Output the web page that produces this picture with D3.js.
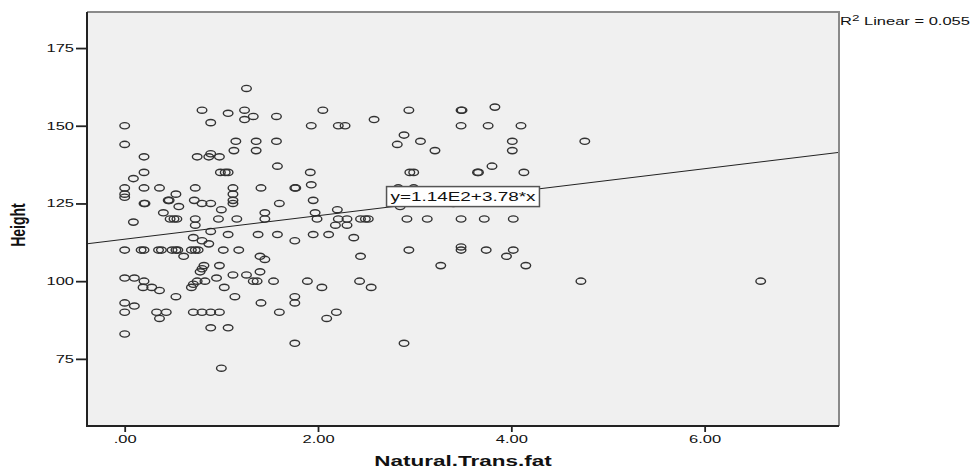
<!DOCTYPE html>
<html>
<head>
<meta charset="utf-8">
<script src="https://cdn.jsdelivr.net/npm/d3@7"></script>
<style>
  body { margin: 0; background: #fff; }
  svg { display: block; }
  text { font-family: "Liberation Sans", Arial, sans-serif; fill: #111; }
</style>
</head>
<body>
<svg width="975" height="468"></svg>
<script>
// Natural.Trans.fat (x) and Height (y)
let transFat = [
    0.80, 1.07, 1.24, 1.24, 1.33, 1.57, 0.89, 0.00, 1.93, 2.05, 2.21, 2.28, 1.26, 2.58, 2.94, 3.48, 3.49, 3.83, 3.48, 3.76, 4.10,
    0.00, 0.20, 0.75, 0.87, 0.89, 0.98, 1.15, 1.36, 1.57, 1.13, 1.36, 2.89, 2.82, 3.06, 3.21, 4.01, 4.01, 4.76,
    0.20, 0.09, 0.99, 1.04, 1.07, 1.58, 1.92, 2.95, 2.99, 3.65, 3.66, 3.80, 4.13,
    0.00, 0.00, 0.00, 0.20, 0.36, 0.73, 0.53, 1.12, 1.12, 1.41, 1.76, 1.77, 1.93, 2.83, 2.99,
    0.20, 0.21, 0.45, 0.46, 0.56, 0.72, 0.80, 0.89, 1.00, 1.12, 1.12, 1.60, 1.95, 2.20, 2.85, 3.40,
    0.09, 0.40, 0.47, 0.51, 0.54, 0.73, 0.73, 0.97, 1.16, 1.45, 1.45, 1.97, 1.99, 2.21, 2.30, 2.18, 2.30, 2.44, 2.49, 2.52, 2.92, 3.13, 3.48, 3.72, 4.02,
    0.89, 0.71, 0.80, 0.87, 1.07, 1.38, 1.58, 1.76, 1.95, 2.11, 2.37,
    0.00, 0.17, 0.20, 0.35, 0.38, 0.49, 0.53, 0.55, 0.61, 0.69, 0.73, 0.76, 1.02, 1.18, 1.40, 1.45, 2.44, 2.94, 3.48, 3.48, 3.74, 4.02, 3.95,
    0.98, 0.82, 0.80, 0.78, 0.00, 0.10, 0.95, 1.12, 1.26, 1.40, 3.27, 4.15,
    0.20, 0.19, 0.28, 0.36, 0.75, 0.83, 0.71, 0.69, 1.03, 1.33, 1.37, 1.54, 1.89, 2.04, 2.43, 2.55, 4.72, 6.58,
    0.53, 1.14, 1.76, 0.00, 0.10, 1.41, 1.76, 0.00, 0.33, 0.43, 0.36, 0.71, 0.80, 0.89, 0.98, 1.60, 2.19, 2.09,
    0.89, 1.07, 0.00, 1.00, 1.76, 2.89
]
let height = [
    155, 154, 155, 152, 153, 153, 151, 150, 150, 155, 150, 150, 162, 152, 155, 155, 155, 156, 150, 150, 150,
    144, 140, 140, 140, 141, 140, 145, 145, 145, 142, 142, 147, 144, 145, 142, 145, 142, 145,
    135, 133, 135, 135, 135, 137, 135, 135, 135, 135, 135, 137, 135,
    130, 128, 127, 130, 130, 130, 128, 130, 128, 130, 130, 130, 131, 130, 130,
    125, 125, 126, 126, 124, 126, 125, 125, 123, 126, 125, 125, 126, 123, 124, 125,
    119, 122, 120, 120, 120, 120, 118, 120, 120, 122, 120, 122, 120, 120, 120, 118, 118, 120, 120, 120, 120, 120, 120, 120, 120,
    116, 114, 113, 112, 115, 115, 115, 113, 115, 115, 114,
    110, 110, 110, 110, 110, 110, 110, 110, 108, 110, 110, 110, 110, 110, 108, 107, 108, 110, 111, 110, 110, 110, 108,
    105, 105, 104, 103, 101, 101, 101, 102, 102, 103, 105, 105,
    100, 98, 98, 97, 100, 100, 99, 98, 98, 100, 100, 100, 100, 98, 100, 98, 100, 100,
    95, 95, 95, 93, 92, 93, 93, 90, 90, 90, 88, 90, 90, 90, 90, 90, 90, 88,
    85, 85, 83, 72, 80, 80
]

let xTicks = [0, 2, 4, 6]
let yTicks = [75, 100, 125, 150, 175]
let fit = { intercept: 113.5, slope: 3.78 }
let fitLabel = 'y=1.14E2+3.78*x'
let r2Label = 'Linear = 0.055'

let points = transFat.map((d, i) => ({ x: d, y: height[i] }))

let svg = d3.select('svg')
let box = { left: 87, right: 839, top: 12, bottom: 426 }
let stretch = 1.5   // the original chart is drawn horizontally stretched

let scale = {
    x: d3.scaleLinear().domain([-0.39, 7.39]).range([box.left, box.right]),
    y: d3.scaleLinear().domain([53.4, 186.6]).range([box.bottom, box.top])
}

// plot background
svg.append('rect')
    .attr('x', box.left)
    .attr('y', box.top)
    .attr('width', box.right - box.left)
    .attr('height', box.bottom - box.top)
    .attr('fill', '#f0f0f0')

svg.append('clipPath').attr('id', 'plot')
    .append('rect')
    .attr('x', box.left)
    .attr('y', box.top)
    .attr('width', box.right - box.left)
    .attr('height', box.bottom - box.top)

// points
svg.append('g')
    .attr('clip-path', 'url(#plot)')
    .selectAll('ellipse')
    .data(points)
    .enter()
    .append('ellipse')
    .attr('cx', d => scale.x(d.x))
    .attr('cy', d => scale.y(d.y))
    .attr('rx', 4.8)
    .attr('ry', 3.1)
    .attr('fill', 'none')
    .attr('stroke', '#333')
    .attr('stroke-width', 1.4)

// fit line
let xs = scale.x.domain()
svg.append('path')
    .attr('clip-path', 'url(#plot)')
    .datum(xs.map(x => ({ x: x, y: fit.intercept + fit.slope * x })))
    .attr('d', d3.line().x(d => scale.x(d.x)).y(d => scale.y(d.y)))
    .attr('fill', 'none')
    .attr('stroke', '#222')
    .attr('stroke-width', 1)

// frame: gray top/right, dark left/bottom
svg.append('path')
    .attr('d', `M${box.left},${box.top}H${box.right}V${box.bottom}`)
    .attr('fill', 'none')
    .attr('stroke', '#8a8a8a')
    .attr('stroke-width', 2)
svg.append('path')
    .attr('d', `M${box.left},${box.top}V${box.bottom}H${box.right}`)
    .attr('fill', 'none')
    .attr('stroke', '#222')
    .attr('stroke-width', 2)

// axes
let axis = {
    x: d3.axisBottom(scale.x).tickValues(xTicks).tickSize(6).tickSizeOuter(0).tickPadding(3.2)
        .tickFormat(d => d === 0 ? '.00' : d.toFixed(2)),
    y: d3.axisLeft(scale.y).tickValues(yTicks).tickSize(11).tickSizeOuter(0).tickPadding(2)
}

let gx = svg.append('g')
    .attr('transform', `translate(0,${box.bottom})`)
    .call(axis.x)
let gy = svg.append('g')
    .attr('transform', `translate(${box.left},0)`)
    .call(axis.y)

;[gx, gy].forEach(g => {
    g.select('.domain').remove()
    g.selectAll('line').attr('stroke', '#222').attr('stroke-width', 1.8)
    g.selectAll('text')
        .attr('font-size', 11)
        .attr('font-family', '"Liberation Sans", Arial, sans-serif')
        .attr('fill', '#111')
        .attr('transform', `scale(${stretch},1)`)
})
gy.selectAll('text').attr('x', -13 / stretch)

// axis titles
svg.append('text')
    .attr('transform', `translate(${(box.left + box.right) / 2},466) scale(${stretch},1)`)
    .attr('text-anchor', 'middle')
    .attr('font-size', 15)
    .attr('font-weight', 'bold')
    .text('Natural.Trans.fat')

svg.append('text')
    .attr('transform', `translate(25,${(box.top + box.bottom) / 2 + 6}) scale(${stretch},1) rotate(-90)`)
    .attr('text-anchor', 'middle')
    .attr('font-size', 14)
    .attr('font-weight', 'bold')
    .text('Height')

// R squared label
let r2 = svg.append('text')
    .attr('transform', `translate(${box.right + 1},25) scale(${stretch},1)`)
    .attr('font-size', 11)
r2.append('tspan').text('R')
r2.append('tspan').attr('font-size', 9).attr('dy', -4).text('2')
r2.append('tspan').attr('dy', 4).text(' ' + r2Label)

// equation label, centred on the line at the middle of the plot
let cx = (box.left + box.right) / 2
let cy = scale.y(fit.intercept + fit.slope * scale.x.invert(cx)) - 1.5
let eq = svg.append('g').attr('transform', `translate(${cx},${cy})`)
let eqRect = eq.append('rect')
let eqText = eq.append('text')
    .attr('transform', `scale(${stretch},1)`)
    .attr('text-anchor', 'middle')
    .attr('dy', '0.36em')
    .attr('font-size', 12.6)
    .text(fitLabel)
let w = eqText.node().getComputedTextLength() * stretch + 8
eqRect
    .attr('x', -w / 2)
    .attr('y', -10)
    .attr('width', w)
    .attr('height', 20)
    .attr('fill', '#fff')
    .attr('stroke', '#555')
    .attr('stroke-width', 1.5)
</script>
</body>
</html>
